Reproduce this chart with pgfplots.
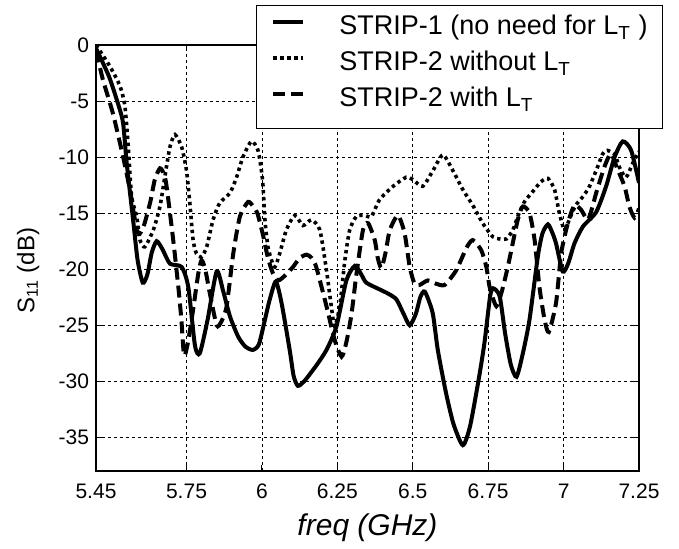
\documentclass[border=0pt]{standalone}
\usepackage{fontspec}
\setmainfont{Liberation Sans}
\usepackage{pgfplots}
\pgfplotsset{compat=1.18}

\begin{document}
\begin{tikzpicture}
\begin{axis}[
    at={(0,0)}, anchor=south west,
    width=271.5pt, height=213pt, scale only axis,
    xmin=5.45, xmax=7.25, ymin=-38, ymax=0,
    xtick={5.45,5.75,6,6.25,6.5,6.75,7,7.25},
    xticklabels={5.45,5.75,6,6.25,6.5,6.75,7,7.25},
    ytick={-35,-30,-25,-20,-15,-10,-5,0},
    yticklabels={-35,-30,-25,-20,-15,-10,-5,0},
    tick label style={font=\fontsize{10.5}{12}\selectfont},
    xticklabel style={yshift=-3pt},
    tick align=inside, major tick length=3pt,
    tick style={black, line width=0.5pt},
    axis line style={line width=0.6pt},
    grid=major,
    grid style={black, line width=0.4pt, dash pattern=on 1.5pt off 1.5pt},
    xlabel={\itshape freq (GHz)},
    xlabel style={at={(rel axis cs:0.5,0)}, anchor=center, yshift=-28.5pt,
        font=\fontsize{15}{17}\selectfont},
    ylabel={S\textsubscript{11} (dB)},
    ylabel style={at={(rel axis cs:-0.125,0.47)}, anchor=center,
        font=\fontsize{12}{14}\selectfont},
    legend cell align=left,
    legend image code/.code={
        \path[draw=none] (0pt,0pt) -- (15pt,0pt);
        \draw[#1] (0pt,4.5pt) -- (15pt,4.5pt);
    },
    legend style={at={(1.0442,1.0939)}, anchor=north east,
        draw=black, line width=0.5pt, fill=white,
        inner xsep=7.5pt, inner ysep=5.6pt,
        row sep=3.5pt, column sep=17pt,
        font=\fontsize{13.5}{15}\selectfont,
        nodes={inner sep=0pt, text height=9pt, text depth=5.5pt}},
]
% STRIP-1
\addplot[black, line width=2pt, smooth, tension=0.4] coordinates {
(5.45,-0.3) (5.493,-2.8) (5.526,-5.5) (5.54,-7.0) (5.552,-10.6) (5.573,-15.6)
(5.588,-19.2) (5.605,-21.2) (5.62,-20.5) (5.635,-18.5) (5.651,-17.5) (5.67,-18.2)
(5.695,-19.5) (5.734,-19.8) (5.756,-21.6) (5.778,-26.8) (5.794,-27.5) (5.82,-24.5)
(5.85,-20.2) (5.872,-22) (5.894,-24.2) (5.921,-26) (5.945,-26.9) (5.97,-27.2)
(5.99,-26.7) (6.01,-24.5) (6.026,-22.7) (6.046,-21.1) (6.065,-23) (6.092,-27.2)
(6.105,-29.5) (6.119,-30.4) (6.14,-30) (6.18,-28.6) (6.214,-27.2) (6.247,-25.1)
(6.28,-21) (6.308,-19.7) (6.33,-20.5) (6.346,-21.2) (6.39,-21.8) (6.42,-22.2)
(6.446,-22.7) (6.47,-24) (6.49,-25) (6.51,-24) (6.525,-22.5) (6.54,-22)
(6.566,-23.9) (6.583,-27.2) (6.61,-31) (6.635,-33.8) (6.666,-35.7) (6.69,-34)
(6.72,-29.6) (6.738,-26.5) (6.756,-22.5) (6.766,-21.7) (6.788,-22.4) (6.806,-25.7)
(6.825,-28.5) (6.844,-29.6) (6.865,-27.5) (6.887,-24.5) (6.915,-18.8) (6.93,-16.8)
(6.948,-16.0) (6.962,-16.7) (6.975,-17.7) (6.997,-20.2) (7.015,-19.5) (7.036,-17.7)
(7.064,-16.2) (7.108,-14.9) (7.141,-12.6) (7.169,-10) (7.196,-8.6) (7.224,-9.4)
(7.25,-12.3)
};
\addlegendentry{STRIP-1 (no need for L\textsubscript{T} )}
% STRIP-2 without LT
\addplot[black, line width=1.8pt, dash pattern=on 1.7pt off 1.8pt, smooth, tension=0.4] coordinates {
(5.45,0) (5.496,-1.9) (5.53,-3.7) (5.546,-5.5) (5.557,-9.1) (5.568,-13.5)
(5.585,-15.3) (5.596,-17.4) (5.612,-18) (5.64,-16.5) (5.662,-14.4) (5.678,-11.8)
(5.695,-9.1) (5.712,-8) (5.734,-9.1) (5.75,-11.2) (5.761,-14.1) (5.772,-17.4)
(5.783,-18.6) (5.80,-18.9) (5.817,-18) (5.838,-15.6) (5.86,-14.1) (5.894,-13.2)
(5.916,-11.8) (5.937,-10) (5.965,-8.6) (5.987,-9.4) (6.002,-12) (6.01,-15.6)
(6.02,-18) (6.032,-19.2) (6.043,-19.8) (6.059,-18.6) (6.081,-16.5) (6.109,-15.2)
(6.136,-16.1) (6.164,-15.6) (6.192,-16.5) (6.214,-20.1) (6.23,-23.3) (6.241,-25.1)
(6.258,-23.3) (6.275,-19.2) (6.291,-16.5) (6.313,-15.3) (6.34,-15.2) (6.363,-15.3)
(6.39,-13.8) (6.435,-12.6) (6.478,-11.8) (6.50,-12) (6.533,-12.6) (6.567,-11.2)
(6.60,-9.8) (6.633,-11.2) (6.666,-12.9) (6.699,-14.3) (6.732,-15.9) (6.765,-17.1)
(6.788,-17.3) (6.81,-17.3) (6.832,-16.5) (6.848,-15.3) (6.87,-14) (6.9,-13)
(6.925,-12.2) (6.948,-11.9) (6.97,-12.9) (6.986,-15) (7.003,-16.5) (7.02,-15.5)
(7.04,-14.3) (7.065,-13.5) (7.086,-12.6) (7.108,-11.2) (7.13,-9.7) (7.145,-9.4)
(7.17,-9.8) (7.185,-10.9) (7.207,-11.8) (7.23,-10.5) (7.25,-9.5)
};
\addlegendentry{STRIP-2 without L\textsubscript{T}}
% STRIP-2 with LT
\addplot[black, line width=2pt, dash pattern=on 6pt off 3pt, smooth, tension=0.4] coordinates {
(5.45,-0.5) (5.473,-3.1) (5.506,-6.1) (5.54,-10) (5.563,-13) (5.585,-16.5)
(5.596,-16.8) (5.61,-16) (5.63,-14) (5.645,-12) (5.662,-11) (5.675,-11.5)
(5.684,-12.6) (5.706,-17.4) (5.723,-21.6) (5.733,-24.5) (5.742,-27.7) (5.755,-26.5)
(5.772,-23.6) (5.789,-20.4) (5.80,-19.2) (5.812,-20) (5.827,-22.1) (5.85,-25)
(5.865,-24.7) (5.883,-23.3) (5.905,-18.6) (5.927,-15.3) (5.954,-14) (5.971,-14.4)
(5.985,-15) (6.004,-17) (6.02,-19) (6.037,-20.4) (6.054,-21) (6.075,-20.6)
(6.103,-19.8) (6.125,-19) (6.148,-18.7) (6.165,-19) (6.18,-19.8) (6.214,-23.3)
(6.241,-26.3) (6.264,-27.8) (6.28,-26.5) (6.297,-24) (6.313,-20.5) (6.335,-16.5)
(6.352,-15.9) (6.374,-17.4) (6.384,-19) (6.396,-19.9) (6.41,-18.5) (6.424,-16.5)
(6.451,-15.2) (6.473,-16.8) (6.49,-19.8) (6.506,-21.3) (6.523,-21.4) (6.55,-21)
(6.578,-21.3) (6.606,-21.4) (6.644,-20.1) (6.678,-18.1) (6.699,-17.4) (6.727,-18.3)
(6.744,-19.8) (6.755,-21.6) (6.777,-23.3) (6.795,-22) (6.815,-19.8) (6.848,-15.6)
(6.865,-14.4) (6.887,-15) (6.904,-17.4) (6.92,-21.6) (6.937,-24.5) (6.951,-25.6)
(6.975,-23) (6.992,-18.6) (7.014,-15.9) (7.036,-14.3) (7.058,-14.7) (7.08,-15.6)
(7.095,-14.5) (7.108,-13.2) (7.135,-10.9) (7.157,-9.7) (7.179,-11.1) (7.202,-12.6)
(7.218,-14.4) (7.235,-15.4) (7.25,-14.6)
};
\addlegendentry{STRIP-2 with L\textsubscript{T}}
\end{axis}
% page frame with the reference proportions
\path (-48pt,-35.5pt) rectangle (291.5pt,235.5pt);
\end{tikzpicture}
\end{document}
